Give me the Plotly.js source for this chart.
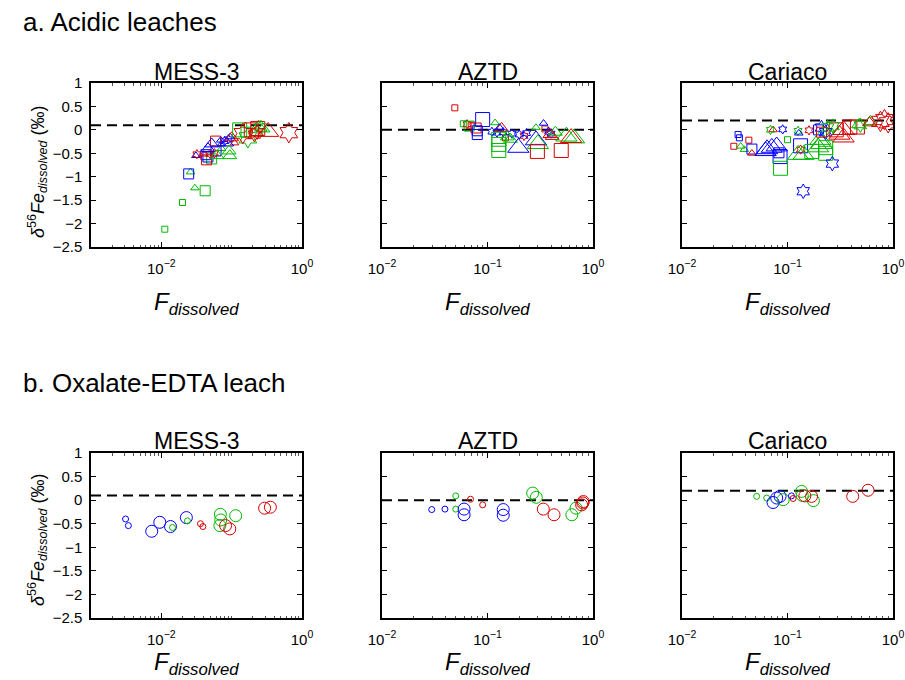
<!DOCTYPE html>
<html>
<head>
<meta charset="utf-8">
<script src="https://cdn.plot.ly/plotly-3.0.1.min.js"></script>
<style>html,body{margin:0;padding:0;background:#fff;}#chart{width:905px;height:680px;}</style>
</head>
<body>
<div id="chart"></div>
<script>
// ---------------- DATA ----------------
// category code: colour series (B/G/R) + marker kind (q=square,t=triangle,h=hexagram,o=circle) + size class (1..3)
const panelTitles = ["MESS-3", "AZTD", "Cariaco"];
const sectionTitles = ["a. Acidic leaches", "b. Oxalate-EDTA leach"];
const baselines = [0.1, 0.0, 0.2];

const mess3A_x = [0.0112,0.020,0.030,0.042,0.0245,0.026,0.031,0.032,0.043,0.046,0.044,0.040,0.049,0.057,0.052,0.052,0.046,0.059,0.060,0.062,0.072,0.079,0.090,0.085,0.092,0.094,0.072,0.100,0.110,0.095,0.130,0.170,0.144,0.190,0.235,0.240,0.26,0.21,0.23,0.28,0.33,0.65,0.16,0.070];
const mess3A_y = [-2.12,-1.55,-1.24,-1.30,-0.94,-0.90,-0.55,-0.52,-0.53,-0.58,-0.64,-0.52,-0.51,-0.50,-0.62,-0.30,-0.40,-0.24,-0.45,-0.55,-0.30,-0.24,-0.20,-0.28,-0.45,-0.55,-0.40,-0.17,-0.28,-0.15,0.00,-0.17,-0.08,0.00,0.03,0.08,0.05,-0.10,-0.05,0.02,-0.04,-0.06,-0.05,-0.22];
const mess3A_c = ['Gq1','Gq1','Gt1','Gq2','Bq2','Gt1','Bt1','Rh1','Bq2','Bq2','Rq2','Rt1','Rh1','Rh1','Gq2','Bt2','Bt2','Rq2','Bq2','Gt2','Bt1','Bh1','Bh1','Bt2','Gt2','Gt2','Gt1','Rt2','Rt1','Bt1','Gq3','Gh3','Rh3','Rq3','Rq3','Gt2','Gh2','Rh2','Rh2','Gt2','Rt3','Rh3','Gq2','Bt1'];

const aztdA_x = [0.049,0.059,0.064,0.067,0.070,0.090,0.078,0.080,0.080,0.11,0.123,0.141,0.17,0.20,0.235,0.118,0.136,0.13,0.128,0.128,0.128,0.148,0.154,0.165,0.196,0.222,0.288,0.288,0.30,0.297,0.34,0.35,0.38,0.40,0.41,0.44,0.56,0.62,0.66,0.50,0.39];
const aztdA_y = [0.47,0.13,0.12,0.08,0.10,0.22,0.04,-0.02,-0.10,-0.04,-0.06,-0.05,-0.08,-0.10,-0.07,0.15,0.03,0.05,-0.20,-0.31,-0.44,-0.17,-0.15,-0.20,-0.38,-0.13,0.05,-0.22,-0.30,-0.46,0.14,0.02,-0.04,-0.08,-0.14,-0.05,-0.14,-0.17,-0.18,-0.44,-0.10];
const aztdA_c = ['Rq1','Gq1','Rh1','Gq2','Rq1','Bq3','Rq2','Bq2','Bq2','Bh1','Bh1','Bh1','Bh1','Bh1','Bh1','Gt1','Rt2','Bt1','Gq3','Gq3','Gq3','Rq1','Gt2','Gt2','Bt3','Rh1','Gt1','Bt3','Gt3','Rq3','Bt1','Rq1','Bh1','Bh1','Rt2','Gt2','Gt3','Rt3','Gt3','Rq3','Rt2'];

const cariA_x = [0.034,0.035,0.031,0.043,0.036,0.039,0.046,0.046,0.062,0.064,0.071,0.079,0.085,0.086,0.083,0.069,0.073,0.090,0.100,0.126,0.128,0.160,0.133,0.133,0.126,0.142,0.141,0.266,0.17,0.23,0.23,0.205,0.21,0.195,0.21,0.197,0.21,0.34,0.31,0.29,0.39,0.46,0.34,0.47,0.61,0.49,0.60,0.76,0.90,0.83,0.27,0.24,0.23];
const cariA_y = [-0.10,-0.17,-0.35,-0.22,-0.35,-0.42,-0.41,-0.50,-0.45,-0.41,-0.38,-0.35,-0.57,-0.82,-0.49,0.00,0.00,0.01,-0.21,-0.02,-0.07,-0.01,-0.34,-0.42,-0.53,-0.53,-1.31,-0.72,-0.46,-0.38,-0.50,-0.21,-0.30,-0.37,0.05,0.00,-0.05,0.00,-0.10,0.00,0.06,0.06,-0.16,0.11,0.18,0.10,0.15,0.18,0.15,0.22,0.08,0.05,-0.05];
const cariA_c = ['Bq1','Bq1','Rq1','Rq1','Gt1','Gt1','Bq2','Rt1','Bt3','Bt3','Bt3','Bt3','Bq3','Gq3','Bq2','Gh1','Rt1','Bh1','Gq1','Gh1','Bt1','Rh1','Bq3','Rh1','Gt3','Gt3','Bh2','Bh2','Gq3','Gq3','Gq3','Gt3','Gt3','Gt3','Bh2','Bq2','Rq2','Rt3','Rt3','Rq3','Rq3','Rq3','Rt3','Gt2','Gt2','Gh2','Rt2','Rh3','Rh3','Rh3','Gh2','Gh2','Bh2'];

const mess3B_x = [0.0031,0.0034,0.0073,0.0095,0.0135,0.0144,0.0227,0.0235,0.036,0.039,0.069,0.070,0.068,0.114,0.082,0.094,0.294,0.355];
const mess3B_y = [-0.40,-0.54,-0.66,-0.47,-0.56,-0.58,-0.37,-0.44,-0.50,-0.56,-0.30,-0.42,-0.54,-0.33,-0.54,-0.61,-0.17,-0.15];
const mess3B_c = ['Bo1','Bo1','Bo2','Bo2','Bo2','Go1','Bo2','Go1','Ro1','Ro1','Go2','Go2','Go2','Go2','Ro2','Ro2','Ro2','Ro2'];

const aztdB_x = [0.0296,0.0395,0.050,0.050,0.060,0.060,0.069,0.090,0.141,0.141,0.268,0.29,0.338,0.427,0.63,0.69,0.78,0.81,0.80];
const aztdB_y = [-0.20,-0.19,0.09,-0.19,-0.19,-0.31,0.02,-0.10,-0.20,-0.32,0.15,0.06,-0.19,-0.31,-0.31,-0.17,-0.10,-0.03,-0.06];
const aztdB_c = ['Bo1','Bo1','Go1','Go1','Bo2','Bo2','Ro1','Ro1','Bo2','Bo2','Go2','Go2','Ro2','Ro2','Go2','Go2','Ro2','Ro2','Ro2'];

const cariB_x = [0.051,0.0635,0.073,0.079,0.085,0.091,0.109,0.113,0.136,0.138,0.146,0.169,0.176,0.415,0.58];
const cariB_y = [0.08,0.045,-0.05,0.045,0.08,0.01,0.09,0.035,0.185,0.10,0.09,0.08,-0.01,0.08,0.21];
const cariB_c = ['Go1','Go1','Bo2','Bo2','Bo2','Go2','Bo1','Ro1','Go2','Go2','Ro2','Ro2','Go2','Ro2','Ro2'];

const xTickValsMess = [0.01, 1];
const xTickTextMess = ['10<sup>\u22122</sup>', '10<sup>0</sup>'];
const xTickVals = [0.01, 0.1, 1];
const xTickText = ['10<sup>\u22122</sup>', '10<sup>\u22121</sup>', '10<sup>0</sup>'];

// ---------------- STYLE / LAYOUT ----------------
const W = 905, H = 680;
const fx = p => p / W;
const fy = p => 1 - p / H;
const colDom = [[91, 302], [382, 593], [682, 893]];
const rowDom = [[83, 247], [453, 618]];
const COLORS = {B: '#0000ff', G: '#00b800', R: '#d60000'};
const SYMBOLS = {q: 'square-open', t: 'triangle-up-open', h: 'hexagram-open', o: 'circle-open'};
const SIZES = {q: [0, 6, 10, 14], t: [0, 7.5, 12, 18.5], h: [0, 7, 11, 15.5], o: [0, 6, 12, 12]};
const FONT = 'Liberation Sans, Arial, Helvetica, sans-serif';

const panels = [
  {x: mess3A_x, y: mess3A_y, c: mess3A_c, col: 0, row: 0},
  {x: aztdA_x, y: aztdA_y, c: aztdA_c, col: 1, row: 0},
  {x: cariA_x, y: cariA_y, c: cariA_c, col: 2, row: 0},
  {x: mess3B_x, y: mess3B_y, c: mess3B_c, col: 0, row: 1},
  {x: aztdB_x, y: aztdB_y, c: aztdB_c, col: 1, row: 1},
  {x: cariB_x, y: cariB_y, c: cariB_c, col: 2, row: 1}
];

const traces = [];
const layout = {
  width: W, height: H,
  margin: {l: 0, r: 0, t: 0, b: 0},
  paper_bgcolor: '#fff', plot_bgcolor: '#fff',
  showlegend: false,
  font: {family: FONT, color: '#000', size: 15},
  shapes: [], annotations: []
};

panels.forEach((p, i) => {
  const n = i + 1;
  const xa = n === 1 ? 'x' : 'x' + n;
  const ya = n === 1 ? 'y' : 'y' + n;
  const groups = {};
  p.c.forEach((code, k) => {
    (groups[code] = groups[code] || {x: [], y: []});
    groups[code].x.push(p.x[k]);
    groups[code].y.push(p.y[k]);
  });
  Object.keys(groups).forEach(code => {
    const col = COLORS[code[0]], sk = code[1], lvl = +code[2];
    traces.push({
      type: 'scatter', mode: 'markers', xaxis: xa, yaxis: ya,
      x: groups[code].x, y: groups[code].y, hoverinfo: 'skip',
      marker: {symbol: SYMBOLS[sk], size: SIZES[sk][lvl], color: col, line: {color: col, width: 1}}
    });
  });
  const isMess = p.col === 0;
  const axX = {
    type: 'log', domain: [fx(colDom[p.col][0]), fx(colDom[p.col][1])],
    range: isMess ? [-3, 0] : [-2, 0],
    anchor: ya, showline: true, linecolor: '#000', linewidth: 1.6, mirror: 'ticks',
    ticks: 'inside', ticklen: 5, tickwidth: 1, tickcolor: '#000',
    tickmode: 'array', tickvals: isMess ? xTickValsMess : xTickVals, ticktext: isMess ? xTickTextMess : xTickText,
    tickfont: {family: FONT, size: 15}, ticklabelstandoff: 7,
    minor: {ticks: 'inside', ticklen: 2.5, tickcolor: '#555', dtick: 'D1', showgrid: false},
    showgrid: false, zeroline: false, fixedrange: true
  };
  const axY = {
    domain: [fy(rowDom[p.row][1]), fy(rowDom[p.row][0])],
    range: [-2.5, 1], tick0: 0, dtick: 0.5,
    anchor: xa, showline: true, linecolor: '#000', linewidth: 1.6, mirror: 'ticks',
    ticks: 'inside', ticklen: 5, tickwidth: 1, tickcolor: '#000',
    showticklabels: p.col === 0, tickfont: {family: FONT, size: 15}, ticklabelstandoff: 4,
    showgrid: false, zeroline: false, fixedrange: true
  };
  layout['xaxis' + (n === 1 ? '' : n)] = axX;
  layout['yaxis' + (n === 1 ? '' : n)] = axY;
  layout.shapes.push({
    type: 'line', layer: 'below', xref: xa + ' domain', yref: ya,
    x0: 0, x1: 1, y0: baselines[p.col], y1: baselines[p.col],
    line: {color: '#000', width: 2, dash: '10px,6px'}
  });
  const cx = (colDom[p.col][0] + colDom[p.col][1]) / 2;
  layout.annotations.push({
    text: panelTitles[p.col], xref: 'paper', yref: 'paper', x: fx(cx), y: fy(p.row === 0 ? 72 : 441),
    xanchor: 'center', yanchor: 'middle', showarrow: false, font: {family: FONT, size: 23}
  });
  layout.annotations.push({
    text: '<i>F</i><sub><i>dissolved</i></sub>', xref: 'paper', yref: 'paper', x: fx(cx), y: fy(p.row === 0 ? 303 : 663),
    xanchor: 'center', yanchor: 'middle', showarrow: false, font: {family: FONT, size: 24}
  });
});

sectionTitles.forEach((t, r) => {
  layout.annotations.push({
    text: t, xref: 'paper', yref: 'paper', x: fx(21), y: fy(r === 0 ? 22 : 383),
    xanchor: 'left', yanchor: 'middle', showarrow: false, font: {family: FONT, size: 26}
  });
  layout.annotations.push({
    text: '<i>\u03b4</i><sup>56</sup><i>Fe</i><sub><i>dissolved</i></sub> (\u2030)', xref: 'paper', yref: 'paper',
    x: fx(37), y: fy(r === 0 ? 172 : 540), textangle: -90,
    xanchor: 'center', yanchor: 'middle', showarrow: false, font: {family: FONT, size: 18}
  });
});

Plotly.newPlot('chart', traces, layout, {displayModeBar: false, staticPlot: true});
</script>
</body>
</html>
